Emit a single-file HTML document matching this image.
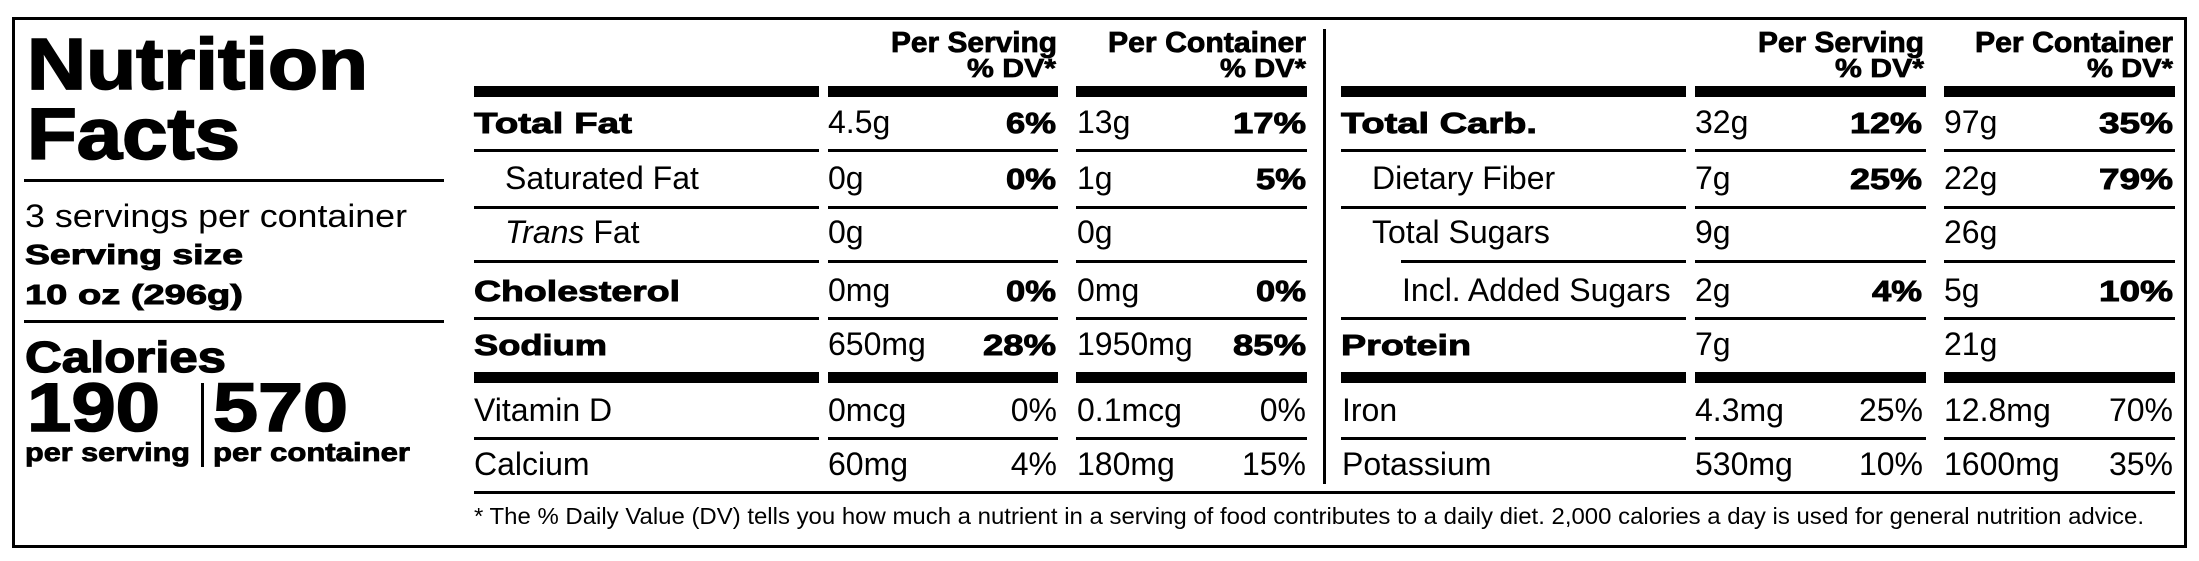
<!DOCTYPE html>
<html>
<head>
<meta charset="utf-8">
<style>
  html, body { margin: 0; padding: 0; background: #fff; }
  svg { display: block; }
  text { font-family: "Liberation Sans", Arial, sans-serif; fill: #000; }
  .r { font-size: 32px; }
  .b { font-size: 29px; font-weight: 700; stroke: #000; stroke-width: 0.9px; }
  .h { font-size: 29px; font-weight: 700; stroke: #000; stroke-width: 0.8px; }
  .hd { font-size: 26px; font-weight: 700; stroke: #000; stroke-width: 0.7px; }
  .big { font-weight: 700; stroke: #000; stroke-width: 1.8px; }
  .fn { font-size: 23px; }
</style>
</head>
<body>
<svg width="2199" height="561" viewBox="0 0 2199 561" xmlns="http://www.w3.org/2000/svg">
  <rect x="0" y="0" width="2199" height="561" fill="#fff"/>
  <rect x="13.5" y="18.5" width="2172" height="528" fill="none" stroke="#000" stroke-width="3"/>

  <!-- LEFT PANEL -->
  <text class="big" x="27" y="89" font-size="72" textLength="341" lengthAdjust="spacingAndGlyphs">Nutrition</text>
  <text class="big" x="27" y="159" font-size="72" textLength="213" lengthAdjust="spacingAndGlyphs">Facts</text>
  <rect x="24" y="179" width="420" height="3" fill="#000"/>
  <text class="r" x="25" y="227" textLength="382" lengthAdjust="spacingAndGlyphs">3 servings per container</text>
  <text x="25" y="264" font-size="28" font-weight="700" stroke="#000" stroke-width="0.9" textLength="218" lengthAdjust="spacingAndGlyphs">Serving size</text>
  <text x="25" y="304" font-size="28" font-weight="700" stroke="#000" stroke-width="0.9" textLength="218" lengthAdjust="spacingAndGlyphs">10 oz (296g)</text>
  <rect x="24" y="320" width="420" height="3" fill="#000"/>
  <text x="25" y="372" font-size="44" font-weight="700" stroke="#000" stroke-width="1.3" textLength="201" lengthAdjust="spacingAndGlyphs">Calories</text>
  <text x="27" y="431" font-size="69" font-weight="700" stroke="#000" stroke-width="1.6" textLength="133" lengthAdjust="spacingAndGlyphs">190</text>
  <text x="213" y="431" font-size="69" font-weight="700" stroke="#000" stroke-width="1.6" textLength="135" lengthAdjust="spacingAndGlyphs">570</text>
  <text x="25" y="461" font-size="26" font-weight="700" stroke="#000" stroke-width="0.8" textLength="165" lengthAdjust="spacingAndGlyphs">per serving</text>
  <text x="213" y="461" font-size="26" font-weight="700" stroke="#000" stroke-width="0.8" textLength="197" lengthAdjust="spacingAndGlyphs">per container</text>
  <rect x="201" y="383" width="3" height="84" fill="#000"/>

  <!-- HEADERS -->
  <text class="h" x="891" y="52" textLength="166" lengthAdjust="spacingAndGlyphs">Per Serving</text>
  <text class="hd" x="967" y="77" textLength="89" lengthAdjust="spacingAndGlyphs">% DV*</text>
  <text class="h" x="1108" y="52" textLength="198" lengthAdjust="spacingAndGlyphs">Per Container</text>
  <text class="hd" x="1220" y="77" textLength="86" lengthAdjust="spacingAndGlyphs">% DV*</text>

  <text class="h" x="1758" y="52" textLength="166" lengthAdjust="spacingAndGlyphs">Per Serving</text>
  <text class="hd" x="1835" y="77" textLength="89" lengthAdjust="spacingAndGlyphs">% DV*</text>
  <text class="h" x="1975" y="52" textLength="198" lengthAdjust="spacingAndGlyphs">Per Container</text>
  <text class="hd" x="2087" y="77" textLength="86" lengthAdjust="spacingAndGlyphs">% DV*</text>

  <rect x="1323" y="29" width="3" height="455" fill="#000"/>

  <!-- THICK BARS -->
  <g fill="#000">
    <rect x="474" y="86" width="345" height="11"/>
    <rect x="828" y="86" width="230" height="11"/>
    <rect x="1076" y="86" width="231" height="11"/>
    <rect x="1341" y="86" width="345" height="11"/>
    <rect x="1695" y="86" width="231" height="11"/>
    <rect x="1944" y="86" width="231" height="11"/>

    <rect x="474" y="372" width="345" height="11"/>
    <rect x="828" y="372" width="230" height="11"/>
    <rect x="1076" y="372" width="231" height="11"/>
    <rect x="1341" y="372" width="345" height="11"/>
    <rect x="1695" y="372" width="231" height="11"/>
    <rect x="1944" y="372" width="231" height="11"/>
  </g>

  <!-- THIN LINES -->
  <g fill="#000">
    <rect x="474" y="149" width="345" height="3"/>
    <rect x="828" y="149" width="230" height="3"/>
    <rect x="1076" y="149" width="231" height="3"/>
    <rect x="1341" y="149" width="345" height="3"/>
    <rect x="1695" y="149" width="231" height="3"/>
    <rect x="1944" y="149" width="231" height="3"/>

    <rect x="474" y="206" width="345" height="3"/>
    <rect x="828" y="206" width="230" height="3"/>
    <rect x="1076" y="206" width="231" height="3"/>
    <rect x="1341" y="206" width="345" height="3"/>
    <rect x="1695" y="206" width="231" height="3"/>
    <rect x="1944" y="206" width="231" height="3"/>

    <rect x="474" y="260" width="345" height="3"/>
    <rect x="828" y="260" width="230" height="3"/>
    <rect x="1076" y="260" width="231" height="3"/>
    <rect x="1401" y="260" width="285" height="3"/>
    <rect x="1695" y="260" width="231" height="3"/>
    <rect x="1944" y="260" width="231" height="3"/>

    <rect x="474" y="317" width="345" height="3"/>
    <rect x="828" y="317" width="230" height="3"/>
    <rect x="1076" y="317" width="231" height="3"/>
    <rect x="1341" y="317" width="345" height="3"/>
    <rect x="1695" y="317" width="231" height="3"/>
    <rect x="1944" y="317" width="231" height="3"/>

    <rect x="474" y="437" width="345" height="3"/>
    <rect x="828" y="437" width="230" height="3"/>
    <rect x="1076" y="437" width="231" height="3"/>
    <rect x="1341" y="437" width="345" height="3"/>
    <rect x="1695" y="437" width="231" height="3"/>
    <rect x="1944" y="437" width="231" height="3"/>

    <rect x="474" y="491" width="1701" height="3"/>
  </g>

  <!-- LEFT TABLE ROWS -->
  <text class="b" x="474" y="133" textLength="158" lengthAdjust="spacingAndGlyphs">Total Fat</text>
  <text class="r" x="828" y="133">4.5g</text>
  <text class="b" x="1006" y="133" textLength="50" lengthAdjust="spacingAndGlyphs">6%</text>
  <text class="r" x="1077" y="133">13g</text>
  <text class="b" x="1233" y="133" textLength="73" lengthAdjust="spacingAndGlyphs">17%</text>

  <text class="r" x="505" y="189">Saturated Fat</text>
  <text class="r" x="828" y="189">0g</text>
  <text class="b" x="1006" y="189" textLength="50" lengthAdjust="spacingAndGlyphs">0%</text>
  <text class="r" x="1077" y="189">1g</text>
  <text class="b" x="1256" y="189" textLength="50" lengthAdjust="spacingAndGlyphs">5%</text>

  <text class="r" x="505" y="243"><tspan font-style="italic">Trans</tspan> Fat</text>
  <text class="r" x="828" y="243">0g</text>
  <text class="r" x="1077" y="243">0g</text>

  <text class="b" x="474" y="301" textLength="206" lengthAdjust="spacingAndGlyphs">Cholesterol</text>
  <text class="r" x="828" y="301">0mg</text>
  <text class="b" x="1006" y="301" textLength="50" lengthAdjust="spacingAndGlyphs">0%</text>
  <text class="r" x="1077" y="301">0mg</text>
  <text class="b" x="1256" y="301" textLength="50" lengthAdjust="spacingAndGlyphs">0%</text>

  <text class="b" x="474" y="355" textLength="133" lengthAdjust="spacingAndGlyphs">Sodium</text>
  <text class="r" x="828" y="355">650mg</text>
  <text class="b" x="983" y="355" textLength="73" lengthAdjust="spacingAndGlyphs">28%</text>
  <text class="r" x="1077" y="355">1950mg</text>
  <text class="b" x="1233" y="355" textLength="73" lengthAdjust="spacingAndGlyphs">85%</text>

  <text class="r" x="474" y="421">Vitamin D</text>
  <text class="r" x="828" y="421">0mcg</text>
  <text class="r" x="1057" y="421" text-anchor="end">0%</text>
  <text class="r" x="1077" y="421">0.1mcg</text>
  <text class="r" x="1306" y="421" text-anchor="end">0%</text>

  <text class="r" x="474" y="475">Calcium</text>
  <text class="r" x="828" y="475">60mg</text>
  <text class="r" x="1057" y="475" text-anchor="end">4%</text>
  <text class="r" x="1077" y="475">180mg</text>
  <text class="r" x="1306" y="475" text-anchor="end">15%</text>

  <!-- RIGHT TABLE ROWS -->
  <text class="b" x="1341" y="133" textLength="196" lengthAdjust="spacingAndGlyphs">Total Carb.</text>
  <text class="r" x="1695" y="133">32g</text>
  <text class="b" x="1850" y="133" textLength="72" lengthAdjust="spacingAndGlyphs">12%</text>
  <text class="r" x="1944" y="133">97g</text>
  <text class="b" x="2099" y="133" textLength="74" lengthAdjust="spacingAndGlyphs">35%</text>

  <text class="r" x="1372" y="189">Dietary Fiber</text>
  <text class="r" x="1695" y="189">7g</text>
  <text class="b" x="1850" y="189" textLength="72" lengthAdjust="spacingAndGlyphs">25%</text>
  <text class="r" x="1944" y="189">22g</text>
  <text class="b" x="2099" y="189" textLength="74" lengthAdjust="spacingAndGlyphs">79%</text>

  <text class="r" x="1372" y="243">Total Sugars</text>
  <text class="r" x="1695" y="243">9g</text>
  <text class="r" x="1944" y="243">26g</text>

  <text class="r" x="1402" y="301">Incl. Added Sugars</text>
  <text class="r" x="1695" y="301">2g</text>
  <text class="b" x="1872" y="301" textLength="50" lengthAdjust="spacingAndGlyphs">4%</text>
  <text class="r" x="1944" y="301">5g</text>
  <text class="b" x="2099" y="301" textLength="74" lengthAdjust="spacingAndGlyphs">10%</text>

  <text class="b" x="1341" y="355" textLength="130" lengthAdjust="spacingAndGlyphs">Protein</text>
  <text class="r" x="1695" y="355">7g</text>
  <text class="r" x="1944" y="355">21g</text>

  <text class="r" x="1342" y="421">Iron</text>
  <text class="r" x="1695" y="421">4.3mg</text>
  <text class="r" x="1923" y="421" text-anchor="end">25%</text>
  <text class="r" x="1944" y="421">12.8mg</text>
  <text class="r" x="2173" y="421" text-anchor="end">70%</text>

  <text class="r" x="1342" y="475">Potassium</text>
  <text class="r" x="1695" y="475">530mg</text>
  <text class="r" x="1923" y="475" text-anchor="end">10%</text>
  <text class="r" x="1944" y="475">1600mg</text>
  <text class="r" x="2173" y="475" text-anchor="end">35%</text>

  <!-- FOOTNOTE -->
  <text class="fn" x="474" y="524" textLength="1670" lengthAdjust="spacingAndGlyphs">* The % Daily Value (DV) tells you how much a nutrient in a serving of food contributes to a daily diet. 2,000 calories a day is used for general nutrition advice.</text>
</svg>
</body>
</html>
